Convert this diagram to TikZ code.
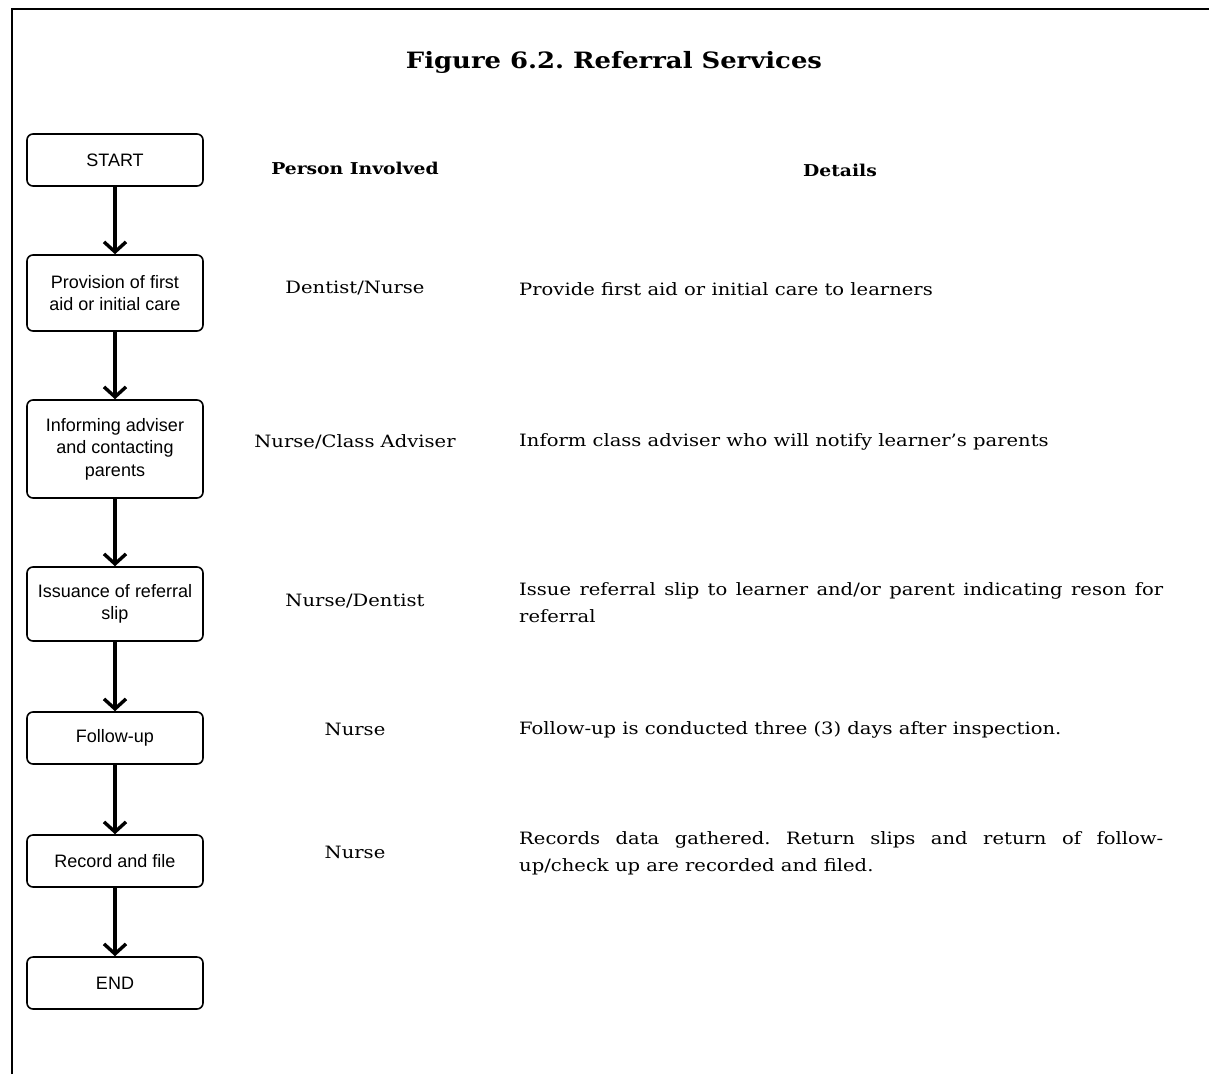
\documentclass[tikz,border=0pt]{standalone}
\usepackage{fontspec}
\setmainfont[FakeStretch=1.15]{DejaVu Serif}
\newfontfamily\boxfont{Liberation Sans}
\usetikzlibrary{arrows.meta}
\tikzset{
  stepbox/.style={draw, line width=1.6pt, rounded corners=6pt, minimum width=176pt, inner sep=2pt, align=center, font=\boxfont\fontsize{18}{22.5}\selectfont},
  flowarrow/.style={line width=3.6pt, -{Straight Barb[length=10pt,width=22pt,line width=3.4pt]}},
  person/.style={inner sep=0pt, font=\fontsize{17}{27}\selectfont},
  detail/.style={inner sep=0pt, anchor=west, align=left, font=\fontsize{17}{27}\selectfont},
  header/.style={inner sep=0pt, font=\bfseries\fontsize{16.3}{20}\selectfont}
}
\begin{document}
\frenchspacing
\begin{tikzpicture}[x=1pt,y=-1pt]
\useasboundingbox (0,0) rectangle (1209,1074);
\fill[white] (0,0) rectangle (1209,1074);
\draw[line width=2pt] (12,1074) -- (12,9) -- (1209,9);
\node[inner sep=0pt, font=\bfseries\fontsize{22.5}{26}\selectfont] (title) at (614,62) {Figure 6.2. Referral Services};
\node[header] (hperson) at (355,168) {Person Involved};
\node[header] (hdetails) at (840,170) {Details};

\node[stepbox, minimum height=52pt] (start) at (115,160) {START};
\node[stepbox, minimum height=76pt] (prov) at (115,293) {Provision of first\\aid or initial care};
\node[stepbox, minimum height=98pt] (inform) at (115,449) {Informing adviser\\and contacting\\parents};
\node[stepbox, minimum height=74pt] (issue) at (115,604) {Issuance of referral\\slip};
\node[stepbox, minimum height=52pt] (follow) at (115,738) {Follow-up};
\node[stepbox, minimum height=52pt] (record) at (115,861) {Record and file};
\node[stepbox, minimum height=52pt] (end) at (115,983) {END};

\draw[flowarrow] (start) -- (prov);
\draw[flowarrow] (prov) -- (inform);
\draw[flowarrow] (inform) -- (issue);
\draw[flowarrow] (issue) -- (follow);
\draw[flowarrow] (follow) -- (record);
\draw[flowarrow] (record) -- (end);

\node[person] (p1) at (355,288) {Dentist/Nurse};
\node[person] (p2) at (355,442) {Nurse/Class Adviser};
\node[person] (p3) at (355,601) {Nurse/Dentist};
\node[person] (p4) at (355,729) {Nurse};
\node[person] (p5) at (355,852) {Nurse};

\node[detail] (d1) at (519,289) {Provide first aid or initial care to learners};
\node[detail] (d2) at (519,442) {Inform class adviser who will notify learner's parents};
\node[detail] (d3) at (519,602.5) {\makebox[644pt][s]{Issue referral slip to learner and/or parent indicating reson for}\\referral};
\node[detail] (d4) at (519,730) {Follow-up is conducted three (3) days after inspection.};
\node[detail] (d5) at (519,853.5) {\makebox[644pt][s]{Records data gathered. Return slips and return of follow-}\\up/check up are recorded and filed.};
\end{tikzpicture}
\end{document}
